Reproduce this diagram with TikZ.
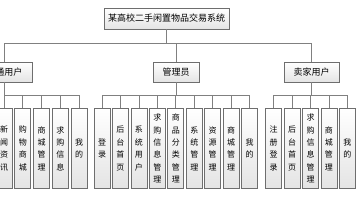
\documentclass[tikz,border=0pt]{standalone}
\usepackage{fontspec}
\newfontfamily\cjk{Noto Sans CJK SC}
\definecolor{boxline}{HTML}{6E6E6E}
\definecolor{boxfill}{HTML}{E4E4E4}
\definecolor{connline}{HTML}{808080}

\begin{document}
\begin{tikzpicture}[x=1pt, y=-1pt,
    box/.style={draw=boxline, line width=0.8pt, top color=white, bottom color=boxfill,
      inner sep=0pt, minimum height=20pt, font=\cjk\fontsize{9}{11}\selectfont},
    leaf/.style={box, minimum width=16pt, minimum height=80pt, align=center,
      font=\cjk\fontsize{8}{12.4}\selectfont},
    conn/.style={draw=connline, line width=0.7pt}]
    \path[use as bounding box, clip] (0,0) rectangle (356,200);
    % top
    \node[box, minimum width=125pt, minimum height=21pt] (sys) at (166.5,18.5) {某高校二手闲置物品交易系统};
    % second level
    \node[box, minimum width=55pt] (pt) at (4.5,72) {普通用户};
    \node[box, minimum width=46pt] (gly) at (176,72) {管理员};
    \node[box, minimum width=55pt] (mj) at (311.5,72) {卖家用户};
    \foreach \n in {pt,gly,mj}
      \draw[conn] (\n.north) -- ++(0,-18) -| (sys.south);
    % leaves
    \foreach \t [count=\i] in {{新\\闻\\资\\讯},{购\\物\\商\\城},{商\\城\\管\\理},{求\\购\\信\\息},{我\\的}} {
      \node[leaf] (pt\i) at ({4+(\i-1)*18.75},148.5) {\t};
      \draw[conn] (pt\i.north) -- ++(0,-13) -| (pt.south);
    }
    \foreach \t [count=\i] in {{登\\录},{后\\台\\首\\页},{系\\统\\用\\户},{求\\购\\信\\息\\管\\理},{商\\品\\分\\类\\管\\理},{系\\统\\管\\理},{资\\源\\管\\理},{商\\城\\管\\理},{我\\的}} {
      \node[leaf] (gly\i) at ({102+(\i-1)*18.45},148.5) {\t};
      \draw[conn] (gly\i.north) -- ++(0,-13) -| (gly.south);
    }
    \foreach \t [count=\i] in {{注\\册\\登\\录},{后\\台\\首\\页},{求\\购\\信\\息\\管\\理},{商\\城\\管\\理},{我\\的}} {
      \node[leaf] (mj\i) at ({273.7+(\i-1)*18.4},148.5) {\t};
      \draw[conn] (mj\i.north) -- ++(0,-13) -| (mj.south);
    }
\end{tikzpicture}
\end{document}
